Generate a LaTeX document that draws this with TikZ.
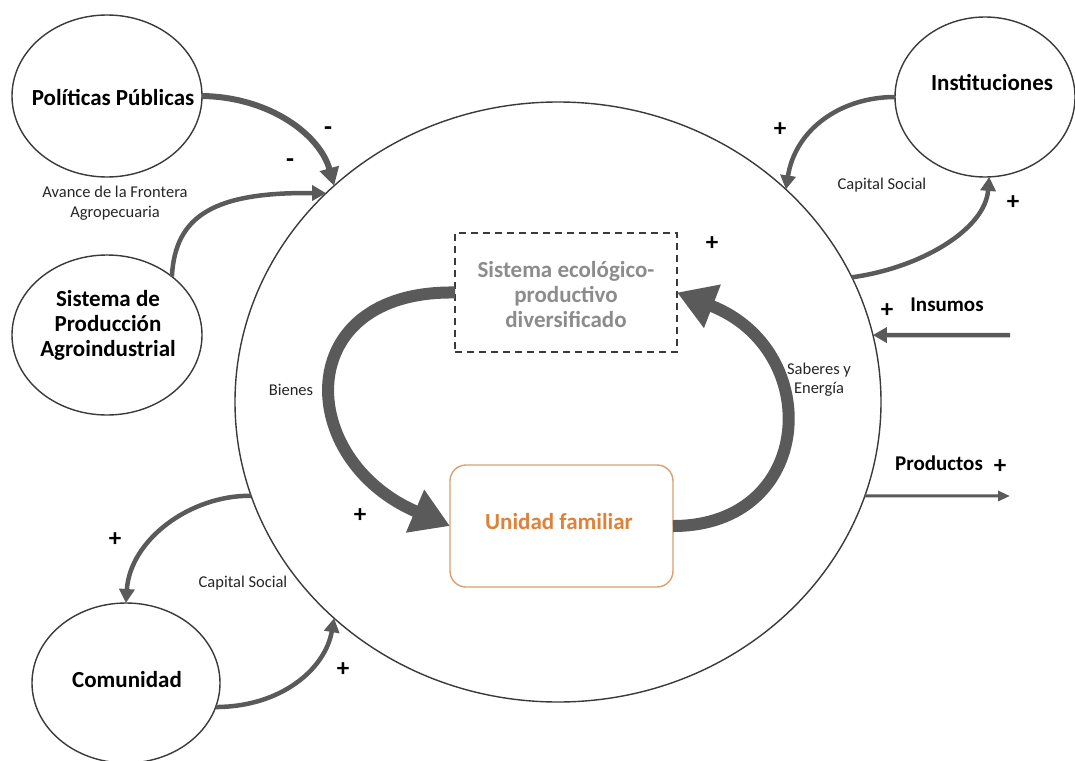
\documentclass[tikz,border=0pt]{standalone}
\usepackage{fontspec}
\setmainfont{Carlito}
\usetikzlibrary{shapes.geometric,arrows.meta}
\definecolor{arrgray}{HTML}{5A5A5A}
\definecolor{linegray}{HTML}{3A3A3A}
\definecolor{ecogray}{HTML}{8C8C8C}
\definecolor{ufborder}{RGB}{214,160,112}
\definecolor{uftext}{RGB}{222,130,58}
\begin{document}
\begin{tikzpicture}[x=1pt,y=-1pt,
  bubble/.style={draw=linegray,line width=1.4pt,ellipse,inner sep=0pt,outer sep=0pt},
  bigtxt/.style={inner sep=0pt,align=center,text=black,font={\fontsize{23}{25}\selectfont\bfseries}},
  midtxt/.style={inner sep=0pt,align=center,text=black,font={\fontsize{21}{23}\selectfont\bfseries}},
  smalltxt/.style={inner sep=0pt,align=center,text=black!85,font={\fontsize{16.5}{20}\selectfont}},
  sign/.style={inner sep=0pt,text=black,font={\fontsize{25}{25}\selectfont\bfseries}},
  minus/.style={inner sep=0pt,text=black,font={\fontsize{26}{26}\selectfont\bfseries}},
  fatarrow/.style={draw=arrgray,line width=12pt,-{Triangle[length=38pt,width=44pt]}},
  medarrow/.style={draw=arrgray,line width=6pt,-{Triangle[length=18pt,width=19pt]}},
  curvearrow/.style={draw=arrgray,line width=4.5pt,-{Triangle[length=14pt,width=15pt]}},
  thinarrow/.style={draw=arrgray,line width=3pt,-{Triangle[length=12pt,width=10pt]}}
]
\useasboundingbox (0,0) rectangle (1075,760);
\fill[white] (0,0) rectangle (1075,760);

% main system ellipse
\node[bubble,minimum width=646pt,minimum height=600pt] (sys) at (558,402) {};

% outer actors
\node[bubble,minimum width=190pt,minimum height=162pt] (pp) at (107,96) {};
\node[bigtxt] (pptxt) at (113,97) {Políticas Públicas};

\node[bubble,minimum width=190pt,minimum height=160pt] (spa) at (107,335) {};
\node[bigtxt] (spatxt) at (108,325) {Sistema de\\Producción\\Agroindustrial};

\node[bubble,minimum width=188pt,minimum height=160pt] (com) at (126,683) {};
\node[bigtxt] (comtxt) at (127,680) {Comunidad};

\node[bubble,minimum width=180pt,minimum height=160pt] (ins) at (985,97) {};
\node[bigtxt] (instxt) at (992,82) {Instituciones};

% inner boxes
\node[draw=linegray,line width=1.4pt,dash pattern=on 7pt off 5pt,minimum width=222pt,minimum height=119pt,inner sep=0pt,outer sep=0pt] (eco) at (566,292.5) {};
\node[bigtxt,text=ecogray] (ecotxt) at (566,295) {Sistema ecológico-\\productivo\\diversificado};

\node[draw=ufborder,line width=1.4pt,rounded corners=16pt,minimum width=223pt,minimum height=122pt,inner sep=0pt,outer sep=0pt] (uf) at (561.5,526) {};
\node[bigtxt,text=uftext] (uftxt) at (559,522) {Unidad familiar};

% connectors
\draw[medarrow] (pp.east) .. controls (270,97) and (320,135) .. (sys.136);
\draw[curvearrow] (spa.42) .. controls (175,215) and (215,192) .. (sys.138);

\draw[curvearrow] (sys.197) .. controls (190,495) and (130,540) .. (com.north);
\draw[curvearrow] (com.-15) .. controls (280,707) and (325,670) .. (sys.224);

\draw[curvearrow] (ins.west) .. controls (840,97) and (795,130) .. (sys.43);
\draw[curvearrow] (sys.23) .. controls (920,268) and (985,230) .. (ins.-87);

\coordinate (insstart) at (1010,335);
\draw[curvearrow] (insstart) -- (sys.12);
\coordinate (prodend) at (1010,496);
\draw[thinarrow] (sys.-17) -- (prodend);

\draw[fatarrow] (eco.west) .. controls (290,290) and (295,460) .. (uf.west);
\draw[fatarrow] (uf.east) .. controls (815,526) and (825,350) .. (eco.east);

% labels
\node[smalltxt] (avance) at (115,203) {Avance de la Frontera\\Agropecuaria};
\node[smalltxt] (capsoc1) at (243,583) {Capital Social};
\node[smalltxt] (capsoc2) at (882,185) {Capital Social};
\node[smalltxt] (bienes) at (291,390) {Bienes};
\node[smalltxt,font={\fontsize{16.5}{19}\selectfont}] (saberes) at (819,380) {Saberes y\\Energía};
\node[midtxt] (insumos) at (947,305) {Insumos};
\node[midtxt] (productos) at (939,463) {Productos};

% signs
\node[minus] (m1) at (328,131) {-};
\node[minus] (m2) at (290,163) {-};
\node[sign] (p1) at (780,130) {+};
\node[sign] (p2) at (1013,203) {+};
\node[sign] (p3) at (712,244) {+};
\node[sign] (p4) at (887,311) {+};
\node[sign] (p5) at (1000,467) {+};
\node[sign] (p6) at (360,516) {+};
\node[sign] (p7) at (115,540) {+};
\node[sign] (p8) at (343,670) {+};
\end{tikzpicture}
\end{document}
